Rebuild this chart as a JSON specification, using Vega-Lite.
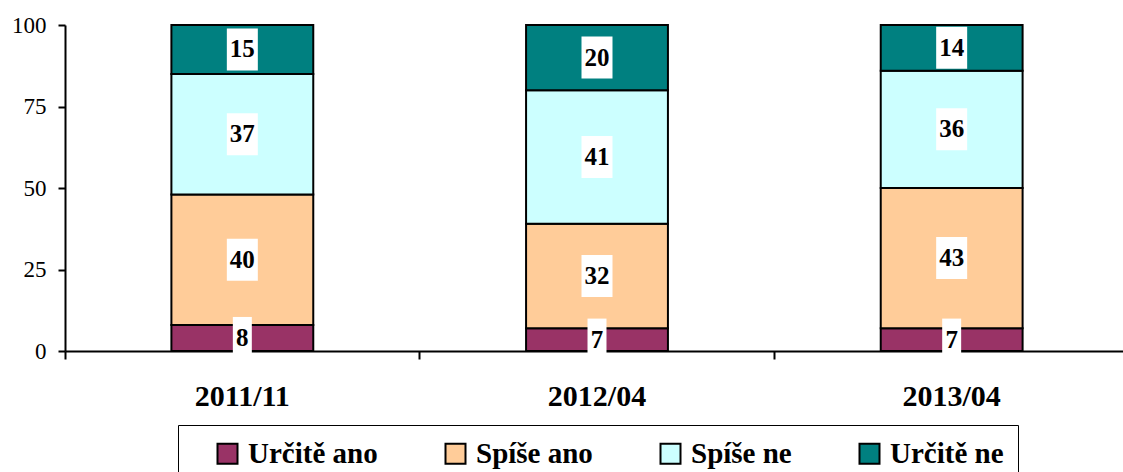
{
  "$schema": "https://vega.github.io/schema/vega-lite/v6.json",
  "width": 1064,
  "height": 326,
  "autosize": "none",
  "padding": {"left": 65, "top": 25, "right": -6, "bottom": 121},
  "background": "white",
  "config": {
    "view": {"stroke": null},
    "font": "Liberation Serif"
  },
  "data": {
    "values": [
      {"period": "2011/11", "answer": "Určitě ano", "value": 8},
      {"period": "2011/11", "answer": "Spíše ano", "value": 40},
      {"period": "2011/11", "answer": "Spíše ne", "value": 37},
      {"period": "2011/11", "answer": "Určitě ne", "value": 15},
      {"period": "2012/04", "answer": "Určitě ano", "value": 7},
      {"period": "2012/04", "answer": "Spíše ano", "value": 32},
      {"period": "2012/04", "answer": "Spíše ne", "value": 41},
      {"period": "2012/04", "answer": "Určitě ne", "value": 20},
      {"period": "2013/04", "answer": "Určitě ano", "value": 7},
      {"period": "2013/04", "answer": "Spíše ano", "value": 43},
      {"period": "2013/04", "answer": "Spíše ne", "value": 36},
      {"period": "2013/04", "answer": "Určitě ne", "value": 14}
    ]
  },
  "transform": [
    {"calculate": "indexof(['Určitě ano','Spíše ano','Spíše ne','Určitě ne'], datum.answer)", "as": "order"},
    {"stack": "value", "groupby": ["period"], "sort": [{"field": "order", "order": "ascending"}], "as": ["y0", "y1"]},
    {"calculate": "(datum.y0 + datum.y1) / 2", "as": "mid"}
  ],
  "encoding": {
    "x": {
      "field": "period",
      "type": "nominal",
      "scale": {"paddingInner": 0, "paddingOuter": 0},
      "axis": {
        "title": null,
        "bandPosition": 0,
        "labelAngle": 0,
        "labelFont": "Liberation Serif",
        "labelFontSize": 30,
        "labelFontWeight": "bold",
        "labelColor": "black",
        "labelPadding": 22,
        "tickSize": 8,
        "tickWidth": 2,
        "tickColor": "black",
        "domainColor": "black",
        "domainWidth": 2,
        "grid": false
      }
    }
  },
  "layer": [
    {
      "mark": {"type": "bar", "width": {"band": 0.4}, "stroke": "black", "strokeWidth": 2},
      "encoding": {
        "y": {
          "field": "y0",
          "type": "quantitative",
          "scale": {"domain": [0, 100]},
          "axis": {
            "title": null,
            "values": [0, 25, 50, 75, 100],
            "grid": false,
            "labelFont": "Liberation Serif",
            "labelFontSize": 23,
            "labelColor": "black",
            "labelPadding": 12,
            "tickSize": 7,
            "tickWidth": 2,
            "tickColor": "black",
            "domainColor": "black",
            "domainWidth": 2
          }
        },
        "y2": {"field": "y1"},
        "color": {
          "field": "answer",
          "type": "nominal",
          "scale": {
            "domain": ["Určitě ano", "Spíše ano", "Spíše ne", "Určitě ne"],
            "range": ["#993366", "#FFCC99", "#CCFFFF", "#008080"]
          },
          "legend": {
            "title": "\u00a0",
            "titleOrient": "left",
            "titleFontSize": 10,
            "titlePadding": 21,
            "orient": "none",
            "legendX": 113,
            "legendY": 400,
            "direction": "horizontal",
            "columns": 4,
            "columnPadding": 63,
            "padding": 14,
            "strokeColor": "black",
            "fillColor": "white",
            "symbolType": "square",
            "symbolSize": 400,
            "symbolStrokeColor": "black",
            "symbolStrokeWidth": 2,
            "symbolOpacity": 1,
            "labelFont": "Liberation Serif",
            "labelFontSize": 29,
            "labelFontWeight": "bold",
            "labelColor": "black",
            "labelOffset": 6,
            "labelLimit": 400,
            "labelExpr": "datum.label == 'Určitě ne' ? datum.label + '\u2002' : datum.label"
          }
        }
      }
    },
    {
      "transform": [{"filter": "datum.value >= 10"}],
      "mark": {"type": "point", "filled": true, "color": "white", "opacity": 1, "size": 1764, "shape": "M-0.738,-1H0.738V1H-0.738Z", "strokeWidth": 0},
      "encoding": {"y": {"field": "mid", "type": "quantitative"}}
    },
    {
      "transform": [{"filter": "datum.value < 10"}],
      "mark": {"type": "point", "filled": true, "color": "white", "opacity": 1, "size": 1764, "shape": "M-0.452,-1H0.452V1H-0.452Z", "strokeWidth": 0},
      "encoding": {"y": {"field": "mid", "type": "quantitative"}}
    },
    {
      "mark": {"type": "text", "font": "Liberation Serif", "fontSize": 25, "fontWeight": "bold", "color": "black", "baseline": "middle", "align": "center"},
      "encoding": {
        "y": {"field": "mid", "type": "quantitative"},
        "text": {"field": "value", "type": "quantitative"}
      }
    }
  ]
}
